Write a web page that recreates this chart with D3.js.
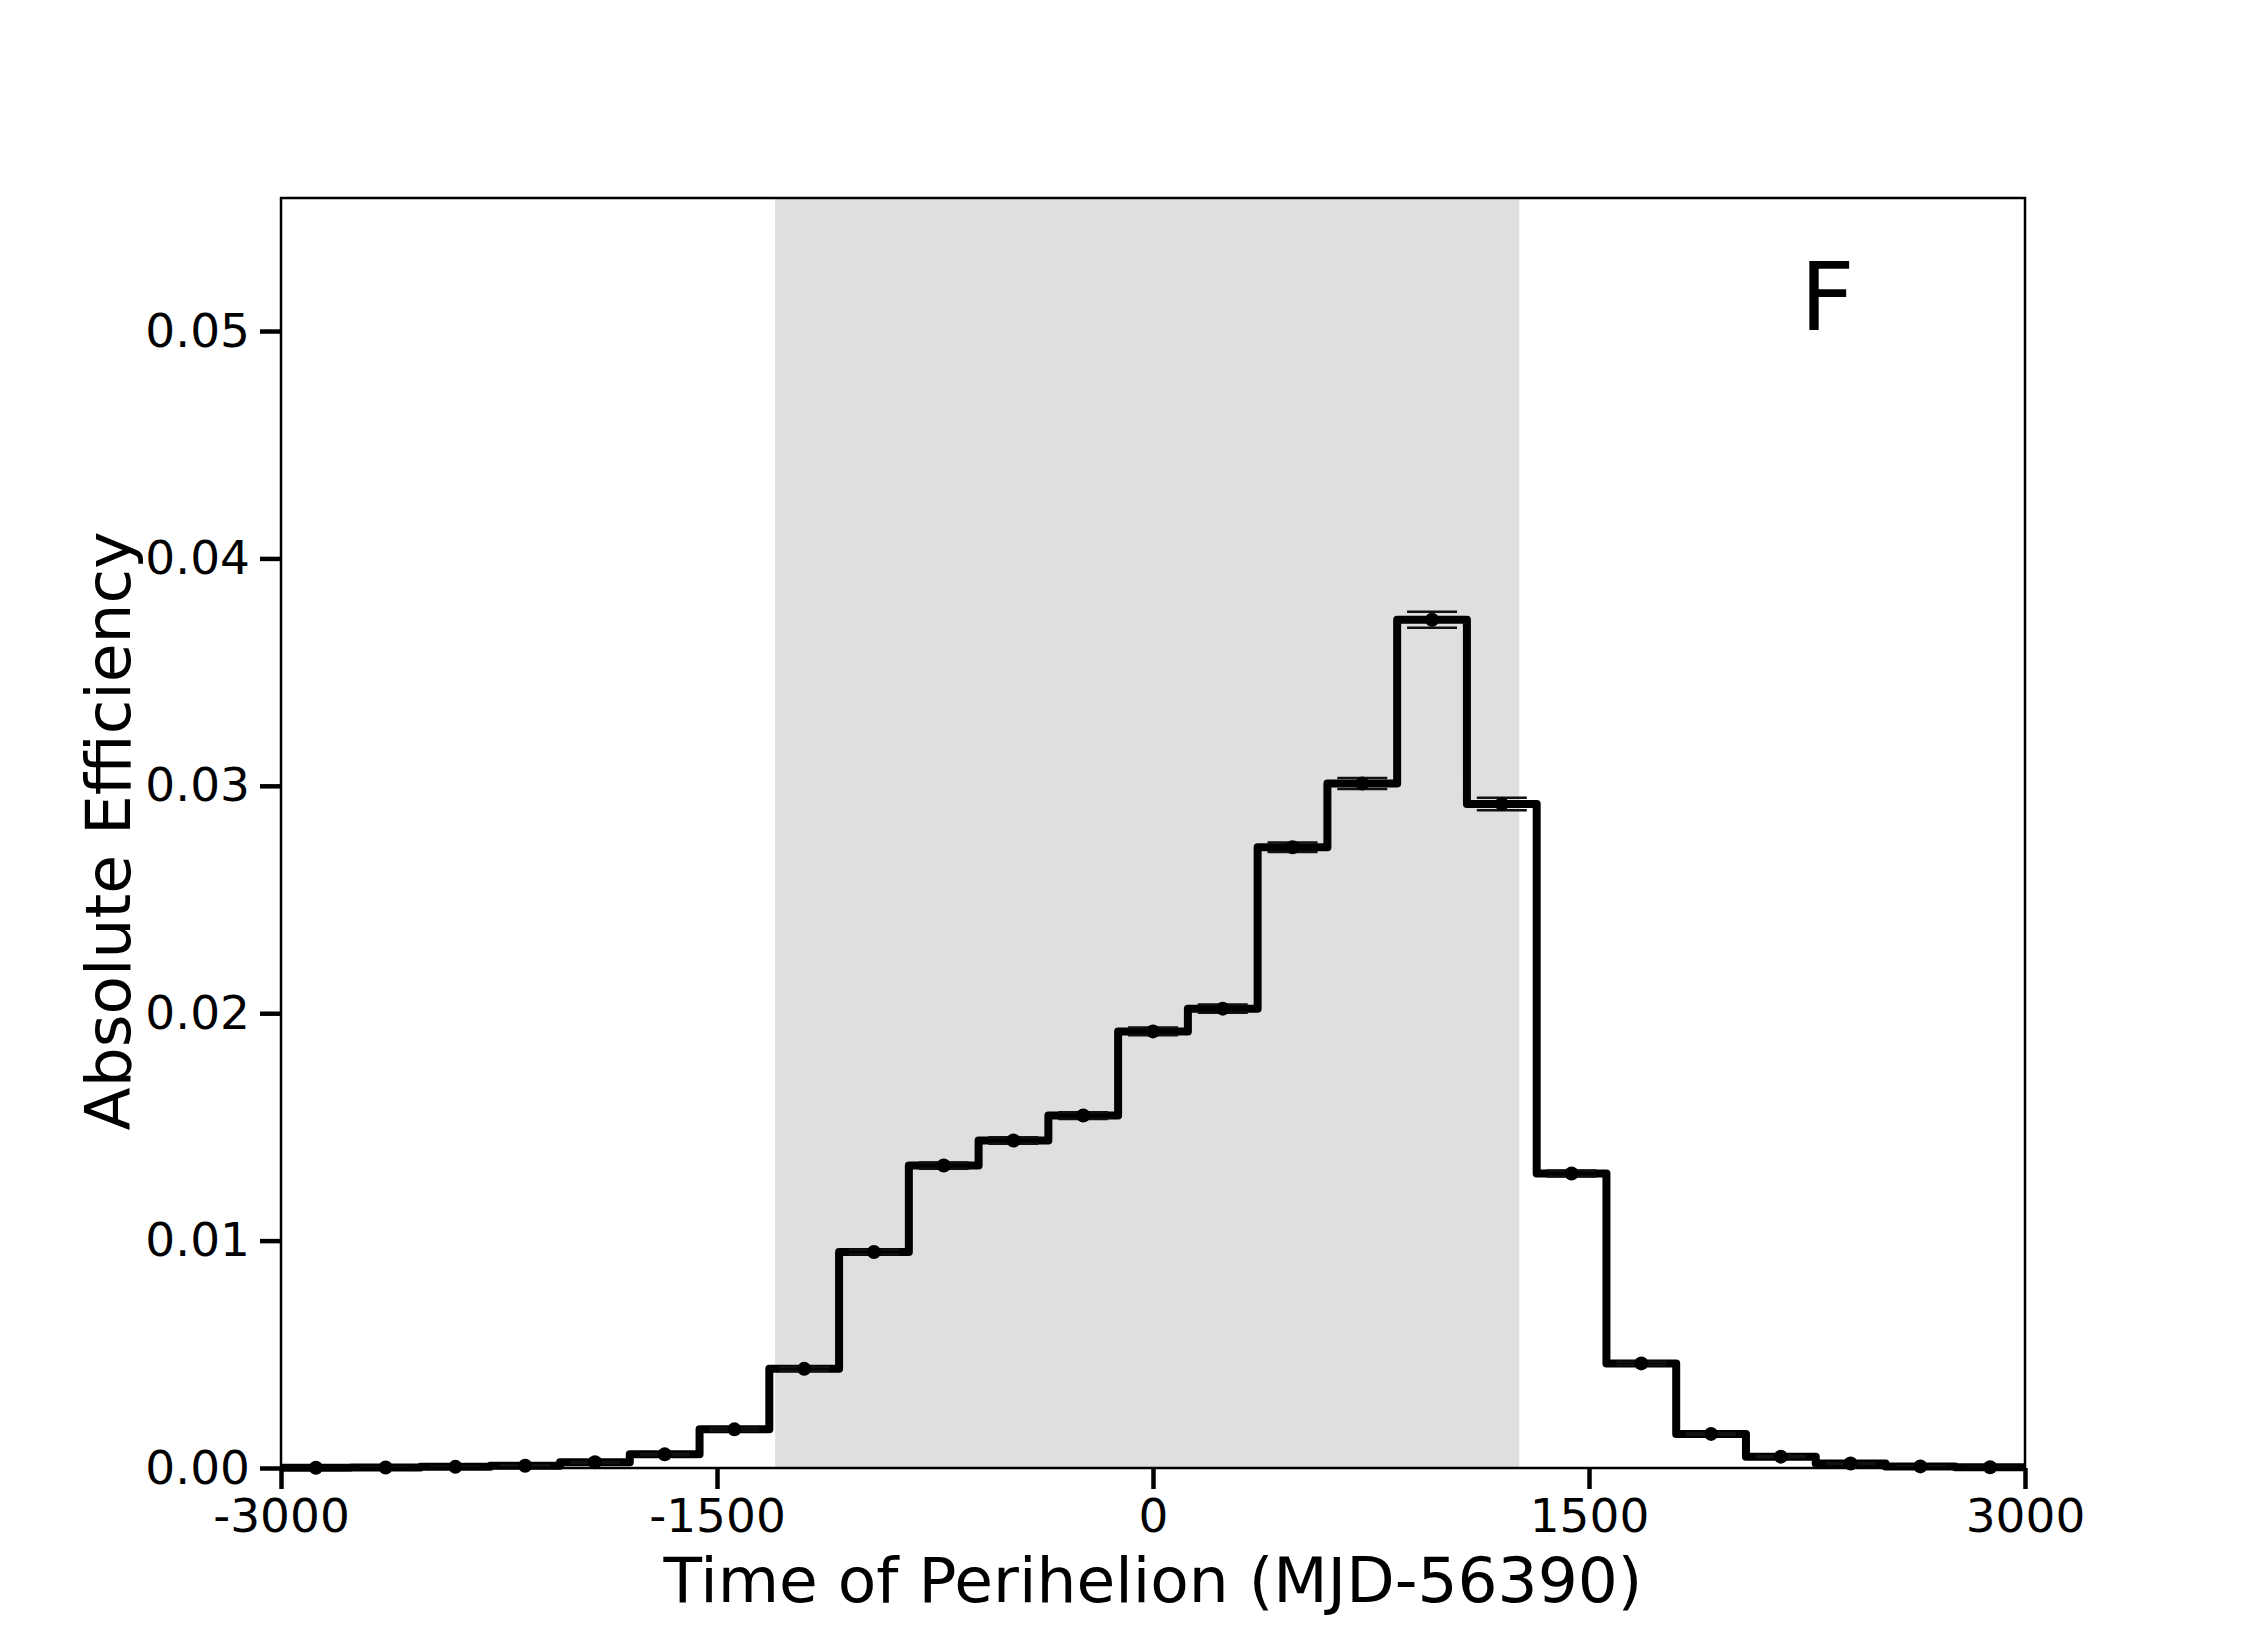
<!DOCTYPE html>
<html>
<head>
<meta charset="utf-8">
<script src="https://cdn.jsdelivr.net/npm/d3@7"></script>
<style>
  body { margin: 0; background: #fff; }
  text { font-family: "DejaVu Sans", sans-serif; fill: #000; }
</style>
</head>
<body>
<div id="chart"></div>
<script>
// bin centres (days, MJD-56390), bin width 240
const binCenters = [-2880, -2640, -2400, -2160, -1920, -1680, -1440, -1200, -960, -720,
  -480, -240, 0, 240, 480, 720, 960, 1200, 1440, 1680, 1920, 2160, 2400, 2640, 2880];
const efficiency = [0.00001, 0.00002, 0.00005, 0.0001, 0.00025, 0.0006, 0.0017, 0.00436, 0.0095, 0.0133,
  0.0144, 0.0155, 0.0192, 0.0202, 0.0273, 0.0301, 0.0373, 0.0292, 0.01295, 0.0046,
  0.0015, 0.0005, 0.0002, 0.00007, 0.00003];
const errors = [0.00001, 0.00001, 0.00002, 0.00002, 0.00003, 0.00004, 0.00006, 0.00008, 0.00011, 0.00014,
  0.00014, 0.00015, 0.00017, 0.00018, 0.00021, 0.00024, 0.00035, 0.00027, 0.00013, 0.00007,
  0.00004, 0.00003, 0.00002, 0.00001, 0.00001];
const binWidth = 240;
const shadeRange = [-1300, 1260];
const xTicks = [-3000, -1500, 0, 1500, 3000];
const yTicks = [0, 0.01, 0.02, 0.03, 0.04, 0.05];
const panelLabel = "F";

const margin = { top: 198, right: 225, bottom: 182, left: 281 };
const width = 2250 - margin.left - margin.right;
const height = 1650 - margin.top - margin.bottom;

const svg = d3.select("#chart")
  .append("svg")
  .attr("width", 2250)
  .attr("height", 1650)
  .append("g")
  .attr("transform", `translate(${margin.left},${margin.top})`);

const x = d3.scaleLinear().domain([-3000, 3000]).range([0, width]);
const y = d3.scaleLinear().domain([0, 0.05585]).range([height, 0]);

// shaded band
svg.append("rect")
  .attr("x", x(shadeRange[0]))
  .attr("y", 0)
  .attr("width", x(shadeRange[1]) - x(shadeRange[0]))
  .attr("height", height)
  .attr("fill", "#dfdfdf");

const data = binCenters.map((c, i) => ({ c: c, v: efficiency[i], e: errors[i] }));

// step histogram
const stepPts = data.map(d => [d.c - binWidth / 2, d.v]);
stepPts.push([binCenters[binCenters.length - 1] + binWidth / 2, efficiency[efficiency.length - 1]]);

svg.append("path")
  .datum(stepPts)
  .attr("fill", "none")
  .attr("stroke", "#000")
  .attr("stroke-width", 8)
  .attr("stroke-linejoin", "round")
  .attr("d", d3.line().x(d => x(d[0])).y(d => y(d[1])).curve(d3.curveStepAfter));

// error bars
const capHalf = 25;
const eb = svg.append("g").attr("stroke", "#111").attr("stroke-width", 2.5);
eb.selectAll("line.v")
  .data(data)
  .join("line")
  .attr("class", "v")
  .attr("x1", d => x(d.c)).attr("x2", d => x(d.c))
  .attr("y1", d => y(d.v - d.e)).attr("y2", d => y(d.v + d.e));
eb.selectAll("line.top")
  .data(data)
  .join("line")
  .attr("class", "top")
  .attr("x1", d => x(d.c) - capHalf).attr("x2", d => x(d.c) + capHalf)
  .attr("y1", d => y(d.v + d.e)).attr("y2", d => y(d.v + d.e));
eb.selectAll("line.bot")
  .data(data)
  .join("line")
  .attr("class", "bot")
  .attr("x1", d => x(d.c) - capHalf).attr("x2", d => x(d.c) + capHalf)
  .attr("y1", d => y(d.v - d.e)).attr("y2", d => y(d.v - d.e));

svg.selectAll("circle.pt")
  .data(data)
  .join("circle")
  .attr("class", "pt")
  .attr("cx", d => x(d.c))
  .attr("cy", d => y(d.v))
  .attr("r", 7)
  .attr("fill", "#000");

// frame
svg.append("rect")
  .attr("width", width)
  .attr("height", height)
  .attr("fill", "none")
  .attr("stroke", "#000")
  .attr("stroke-width", 2.5);

// axes
const xAxis = svg.append("g")
  .attr("transform", `translate(0,${height})`)
  .call(d3.axisBottom(x).tickValues(xTicks).tickFormat(d => String(d)).tickSize(21).tickPadding(10));
const yAxis = svg.append("g")
  .call(d3.axisLeft(y).tickValues(yTicks).tickFormat(d3.format(".2f")).tickSize(21).tickPadding(10));

[xAxis, yAxis].forEach(a => {
  a.select(".domain").remove();
  a.selectAll(".tick line").attr("stroke", "#000").attr("stroke-width", 4.5);
  a.selectAll(".tick text")
    .style("font-family", "DejaVu Sans, sans-serif")
    .style("font-size", "47px")
    .attr("fill", "#000");
});

// labels
svg.append("text")
  .attr("x", width / 2)
  .attr("y", height + 134)
  .attr("text-anchor", "middle")
  .style("font-size", "63px")
  .text("Time of Perihelion (MJD-56390)");

svg.append("text")
  .attr("transform", `translate(${108 - margin.left + 22},${height / 2 - 2}) rotate(-90)`)
  .attr("text-anchor", "middle")
  .style("font-size", "63px")
  .text("Absolute Efficiency");

svg.append("text")
  .attr("x", 1800 - margin.left)
  .attr("y", 330 - margin.top)
  .style("font-size", "95px")
  .text(panelLabel);
</script>
</body>
</html>
